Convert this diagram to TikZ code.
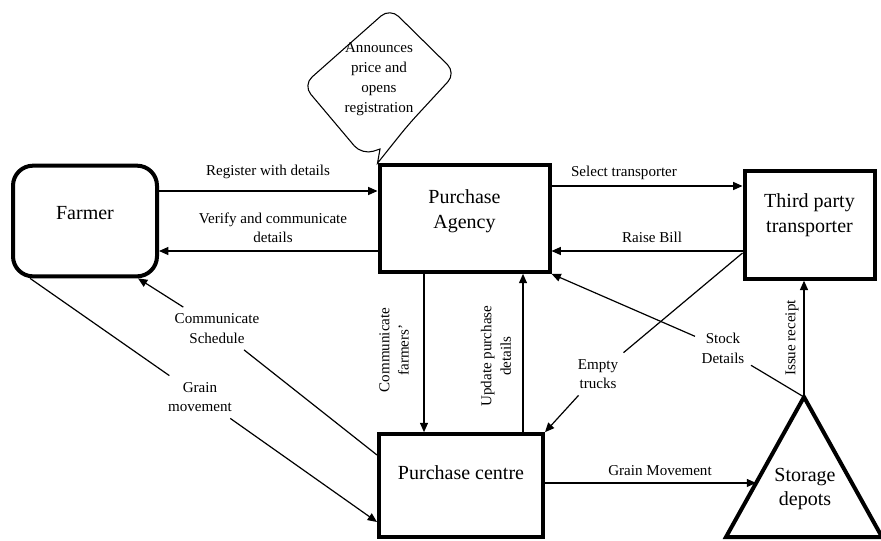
\documentclass[tikz,border=0pt]{standalone}
\usepackage{fontspec}
\setmainfont{Liberation Serif}
\usetikzlibrary{arrows.meta,calc}

\tikzset{
  box/.style={draw, line width=3pt, align=center, inner sep=0pt, font=\fontsize{15}{18.5}\selectfont},
  lbl/.style={align=center, inner sep=1pt, font=\fontsize{11.3}{14.5}\selectfont},
  gap/.style={lbl, outer sep=4pt},
  link/.style={line width=0.9pt},
  flow/.style={link, -{Triangle[length=7pt,width=6pt]}},
}

\begin{document}
\begin{tikzpicture}[x=0.75pt,y=-0.75pt]
  \useasboundingbox (0,0) rectangle (881,540);
  % actors
  \node[box, rounded corners=15pt, minimum width=108pt, minimum height=83pt, text depth=12pt] (farmer) at (85,221) {Farmer};
  \node[box, minimum width=127.5pt, minimum height=80pt, text depth=13.8pt] (agency) at (464.5,218.5) {Purchase\\Agency};
  \node[box, minimum width=97.5pt, minimum height=80.5pt, text depth=17.5pt] (transporter) at (809.5,225) {Third party\\transporter};
  \node[box, minimum width=123pt, minimum height=77pt, text depth=20pt] (centre) at (461,485.5) {Purchase centre};
  % storage depots
  \coordinate (apex) at (804,397);
  \coordinate (baseL) at (726,537);
  \coordinate (baseR) at (882,537);
  \draw[line width=3pt, line join=miter] (apex) -- (baseL) -- (baseR) -- cycle;
  \node[font=\fontsize{15}{18.5}\selectfont, align=center] (depots) at (805,489) {Storage\\depots};
  \coordinate (gm) at ($(apex)!0.614!(baseL)$);
  % callout
  \draw[line width=0.8pt, rounded corners=9pt] (303,85) -- (390,8) -- (456,73) -- (408,125)
    [sharp corners] -- (agency.north west) -- (380,149) [rounded corners=9pt] -- (362,155) -- cycle;
  \node[lbl, font=\fontsize{11.3}{15}\selectfont] (announce) at (379,79) {Announces\\price and\\opens\\registration};
  % labels
  \node[lbl] (register) at (268,172) {Register with details};
  \node[lbl] (verify) at (273,227.5) {Verify and communicate\\details};
  \node[lbl] (select) at (624,173) {Select transporter};
  \node[lbl] (bill) at (652,237) {Raise Bill};
  \node[gap] (sched) at (217,328.5) {Communicate\\Schedule};
  \node[gap] (grain) at (200,397) {Grain\\movement};
  \node[lbl, rotate=90] (inform) at (394,350) {Communicate\\farmers'};
  \node[lbl, rotate=90] (update) at (496,356) {Update purchase\\details};
  \node[gap] (trucks) at (598,374) {Empty\\trucks};
  \node[gap] (stock) at (723,348.5) {Stock\\Details};
  \node[lbl] (move) at (660,471) {Grain Movement};
  % farmer <-> agency
  \draw[flow] (farmer.east |- 0,191) -- (agency.west |- 0,191);
  \draw[flow] (agency.west |- 0,251) -- (farmer.east |- 0,251);
  % agency <-> transporter
  \draw[flow] (agency.east |- 0,186) -- (transporter.west |- 0,186);
  \draw[flow] (transporter.west |- 0,251) -- (agency.east |- 0,251);
  % agency <-> centre
  \draw[flow] (agency.south -| 424,0) -- (centre.north -| 424,0);
  \draw[flow] (centre.north -| 523,0) -- (agency.south -| 523,0);
  % centre -> farmer
  \draw[link] (centre.west |- 0,455) -- (sched);
  \draw[flow] (sched) -- (farmer.south -| 138,0);
  \draw[link] (farmer.south -| 30,0) -- (grain);
  \draw[flow] (grain) -- (centre.west |- 0,522);
  % trucks and depots
  \draw[link] (transporter.west |- 0,253) -- (trucks);
  \draw[flow] (trucks) -- (centre.north east);
  \draw[flow] (centre.east |- gm) -- (gm);
  \draw[link] (apex) -- (stock);
  \draw[flow] (stock) -- (agency.south east);
  \draw[flow] (apex) -- (transporter.south -| apex);
  \node[lbl, rotate=90, fill=white, inner xsep=5pt] (receipt) at (792,338) {Issue receipt};
\end{tikzpicture}
\end{document}
